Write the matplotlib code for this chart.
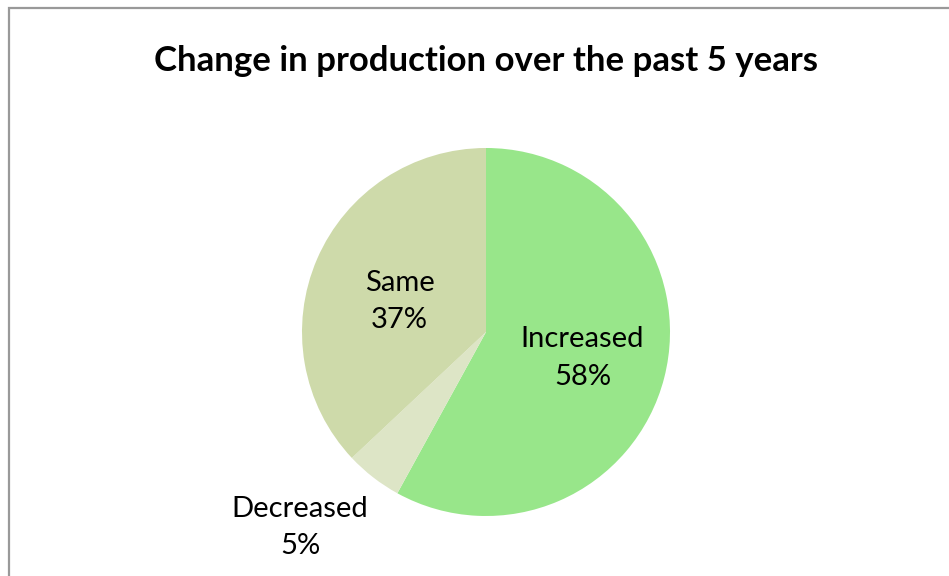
import matplotlib.pyplot as plt
import matplotlib as mpl
from matplotlib.patches import Rectangle
import numpy as np

mpl.rcParams['font.family'] = ['Lato', 'DejaVu Sans']

labels = ['Increased', 'Decreased', 'Same']
shares = [58, 5, 37]
colors = ['#98e68a', '#dde5c6', '#cedaaa']
title = 'Change in production over the past 5 years'

fig = plt.figure(figsize=(9.49, 5.76), dpi=100)

# frame like the spreadsheet chart area (left and top edges visible)
fig.patches.append(Rectangle((9 / 949, -0.05), 1.2, 1.05 - 8 / 576,
                             transform=fig.transFigure, fill=False,
                             edgecolor='#999999', linewidth=1.6))

fig.text(486 / 949, 1 - 61 / 576, title, ha='center', va='center',
         fontsize=25, fontweight='bold')

# pie centre (486, 332) px, radius 184 px
cx, cy, r = 486, 332, 184
ax = fig.add_axes([(cx - r) / 949, (576 - cy - r) / 576, 2 * r / 949, 2 * r / 576])
wedges, texts = ax.pie(shares, colors=colors, startangle=90, counterclock=False,
                       labels=[f'{l}\n{s}%' for l, s in zip(labels, shares)],
                       labeldistance=0.53,
                       wedgeprops={'linewidth': 0},
                       textprops={'fontsize': 21, 'ha': 'center', 'va': 'center',
                                  'linespacing': 1.55})
ax.set_xlim(-1, 1)
ax.set_ylim(-1, 1)
ax.set_aspect('equal')
texts[0].set_position((0.525, -0.142))
texts[1].set_position((-1.01, -1.063))
texts[2].set_position((-0.47, 0.166))

fig.savefig('out.png', dpi=100)
